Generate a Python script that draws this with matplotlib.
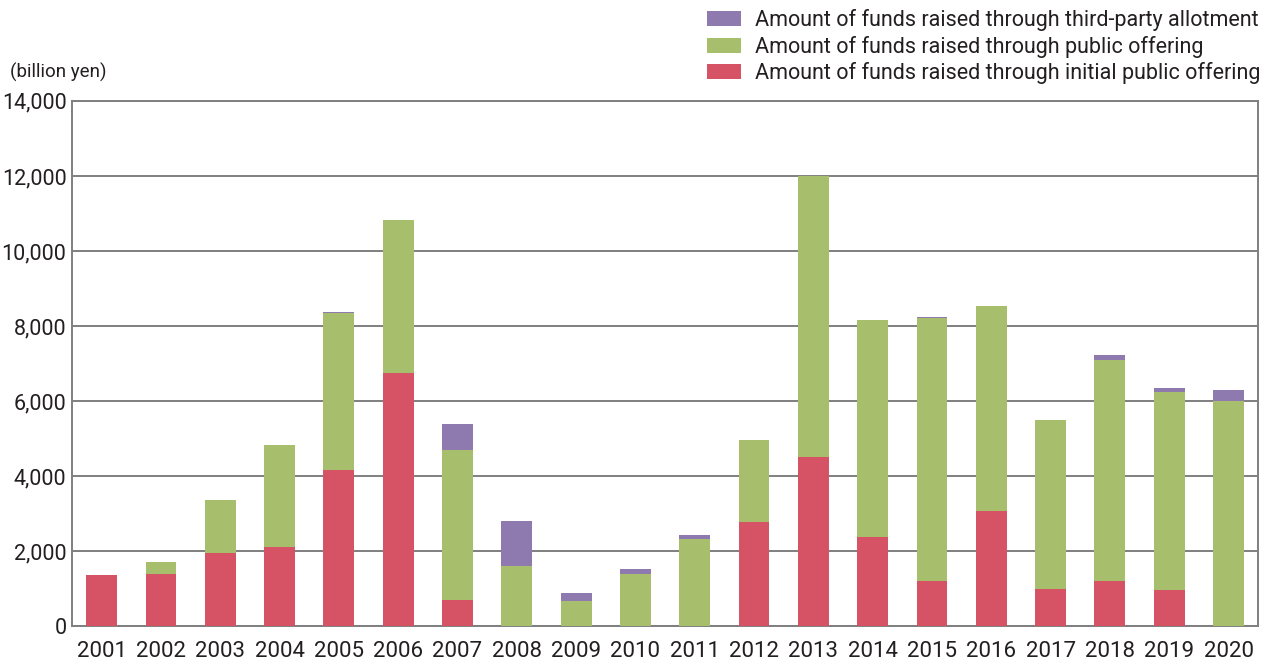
import matplotlib
matplotlib.use("Agg")
from matplotlib import pyplot as plt
import numpy as np

# Funds raised by year (billion yen)
years = [str(y) for y in range(2001, 2021)]
ipo = [1360, 1380, 1940, 2100, 4150, 6740, 690, 0, 0, 0,
       0, 2770, 4500, 2370, 1190, 3060, 980, 1190, 950, 0]
public = [0, 330, 1420, 2720, 4200, 4080, 4000, 1600, 660, 1390,
          2310, 2180, 7500, 5800, 7030, 5470, 4520, 5900, 5290, 5990]
third_party = [0, 0, 0, 0, 10, 0, 690, 1190, 210, 120,
               110, 0, 0, 0, 20, 0, 0, 130, 110, 300]

c_ipo = "#D65265"
c_pub = "#A7BF6C"
c_third = "#8E7AAF"
grid_c = "#7f7f7f"
txt_c = "#231f20"

plt.rcParams["font.family"] = ["Roboto", "DejaVu Sans"]

fig = plt.figure(figsize=(12.7, 6.68), dpi=100)
ax = fig.add_axes([0.0567, 0.0629, 0.934, 0.786])

x = np.arange(len(years))
ipo = np.array(ipo)
public = np.array(public)
third_party = np.array(third_party)

w = 0.52
b1 = ax.bar(x, ipo, w, color=c_ipo, zorder=3)
b2 = ax.bar(x, public, w, bottom=ipo, color=c_pub, zorder=3)
b3 = ax.bar(x, third_party, w, bottom=ipo + public, color=c_third, zorder=3)

ax.set_xlim(-0.5, len(years) - 0.5)
ax.set_ylim(0, 14000)
ax.set_yticks(range(0, 14001, 2000))
ax.set_yticklabels([f"{v:,}" for v in range(0, 14001, 2000)], fontsize=15.5, color=txt_c)
ax.set_xticks(x)
ax.set_xticklabels(years, fontsize=16, color=txt_c)
ax.tick_params(axis="x", length=0, pad=11)
ax.tick_params(axis="y", length=0, pad=4)

ax.grid(axis="y", color=grid_c, linewidth=1.4, zorder=1)
for s in ax.spines.values():
    s.set_color(grid_c)
    s.set_linewidth(1.4)

fig.text(0.008, 0.892, "(billion yen)", fontsize=13.5, color=txt_c, va="center")

fig.legend([b3, b2, b1],
           ["Amount of funds raised through third-party allotment",
            "Amount of funds raised through public offering",
            "Amount of funds raised through initial public offering"],
           loc="upper right", bbox_to_anchor=(0.9995, 0.999), frameon=False,
           fontsize=15.5, handlelength=1.6, handleheight=0.7,
           handletextpad=0.65, labelspacing=0.2, borderaxespad=0,
           labelcolor=txt_c)

plt.savefig("out.png", dpi=100)
